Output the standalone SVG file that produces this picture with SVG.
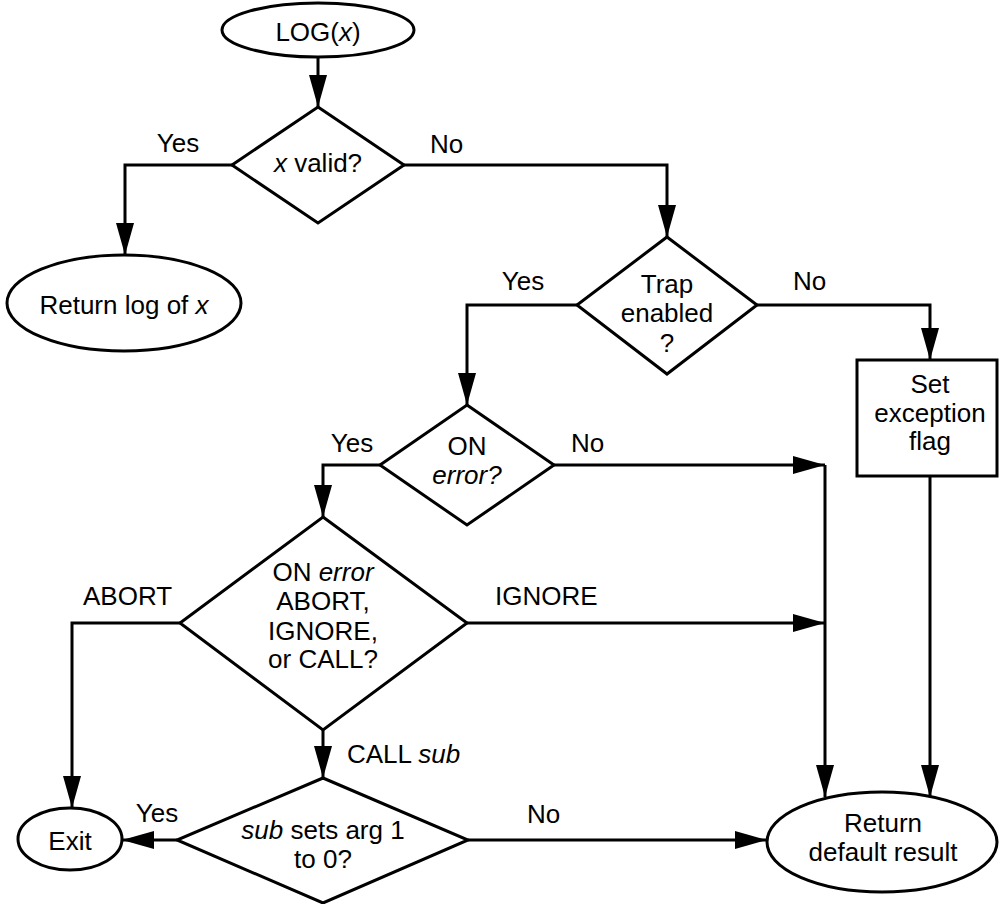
<svg xmlns="http://www.w3.org/2000/svg" width="1000" height="904" viewBox="0 0 1000 904">
  <defs>
    <marker id="arrow" markerUnits="userSpaceOnUse" markerWidth="32" markerHeight="18" refX="32" refY="9" orient="auto">
      <path d="M0,0 L32,9 L0,18 Z" fill="#000"/>
    </marker>
    <style>
      .shape { fill: #fff; stroke: #000; stroke-width: 3; }
      .edge { fill: none; stroke: #000; stroke-width: 3; }
      .arr { marker-end: url(#arrow); }
      text { font-family: "Liberation Sans", Arial, sans-serif; font-size: 26px; fill: #000; }
      .c { text-anchor: middle; }
      .i { font-style: italic; }
    </style>
  </defs>
  <rect width="1000" height="904" fill="#fff"/>

  <!-- connectors -->
  <g id="connectors">
    <path class="edge arr" d="M318,57 V107"/>
    <path class="edge arr" d="M232,165 H125 V255"/>
    <path class="edge arr" d="M404,165 H667 V237"/>
    <path class="edge arr" d="M757,305 H930 V360"/>
    <path class="edge arr" d="M577,305 H467 V405"/>
    <path class="edge arr" d="M380,465 H323 V517"/>
    <path class="edge arr" d="M554,465 H825"/>
    <path class="edge arr" d="M467,623 H825"/>
    <path class="edge" d="M825,465 V623"/>
    <path class="edge arr" d="M825,623 V797"/>
    <path class="edge arr" d="M930,476 V797"/>
    <path class="edge arr" d="M180,623 H72 V808"/>
    <path class="edge arr" d="M323,730 V778"/>
    <path class="edge arr" d="M177,840 H122"/>
    <path class="edge arr" d="M468,840 H767"/>

    <text x="178" y="152" class="c">Yes</text>
    <text x="430" y="153">No</text>
    <text x="523" y="290" class="c">Yes</text>
    <text x="793" y="290">No</text>
    <text x="352" y="452" class="c">Yes</text>
    <text x="571" y="452">No</text>
    <text x="83" y="605">ABORT</text>
    <text x="495" y="605">IGNORE</text>
    <text x="347" y="763">CALL <tspan class="i">sub</tspan></text>
    <text x="157" y="822" class="c">Yes</text>
    <text x="527" y="823">No</text>
  </g>

  <g id="start">
    <ellipse class="shape" cx="318" cy="30" rx="96" ry="27"/>
    <text x="318" y="41" class="c">LOG(<tspan class="i">x</tspan>)</text>
  </g>

  <g id="x-valid">
    <polygon class="shape" points="318,107 404,165 318,223 232,165"/>
    <text x="318" y="172" class="c"><tspan class="i">x</tspan> valid?</text>
  </g>

  <g id="return-log">
    <ellipse class="shape" cx="124" cy="303" rx="117" ry="48"/>
    <text x="124" y="314" class="c">Return log of <tspan class="i">x</tspan></text>
  </g>

  <g id="trap-enabled">
    <polygon class="shape" points="667,237 757,305 667,374 577,305"/>
    <text x="667" y="293" class="c">Trap</text>
    <text x="667" y="322" class="c">enabled</text>
    <text x="667" y="352" class="c">?</text>
  </g>

  <g id="set-flag">
    <rect class="shape" x="857" y="360" width="140" height="116"/>
    <text x="930" y="393" class="c">Set</text>
    <text x="930" y="422" class="c">exception</text>
    <text x="930" y="450" class="c">flag</text>
  </g>

  <g id="on-error">
    <polygon class="shape" points="467,405 554,465 467,525 380,465"/>
    <text x="467" y="455" class="c">ON</text>
    <text x="467" y="484" class="c i">error?</text>
  </g>

  <g id="on-error-action">
    <polygon class="shape" points="323,517 467,623 323,730 180,623"/>
    <text x="323" y="581" class="c">ON <tspan class="i">error</tspan></text>
    <text x="323" y="610" class="c">ABORT,</text>
    <text x="323" y="640" class="c">IGNORE,</text>
    <text x="323" y="668" class="c">or CALL?</text>
  </g>

  <g id="sub-check">
    <polygon class="shape" points="323,778 468,840 323,903 177,840"/>
    <text x="323" y="839" class="c"><tspan class="i">sub</tspan> sets arg 1</text>
    <text x="323" y="868" class="c">to 0?</text>
  </g>

  <g id="exit">
    <ellipse class="shape" cx="70" cy="839" rx="52" ry="31"/>
    <text x="70" y="850" class="c">Exit</text>
  </g>

  <g id="return-default">
    <ellipse class="shape" cx="882" cy="842" rx="115" ry="50"/>
    <text x="883" y="832" class="c">Return</text>
    <text x="883" y="861" class="c">default result</text>
  </g>
</svg>
